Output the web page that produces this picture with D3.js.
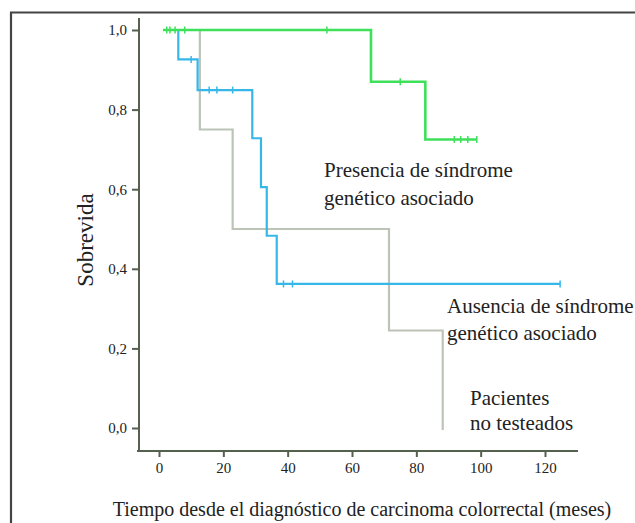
<!DOCTYPE html>
<html>
<head>
<meta charset="utf-8">
<script src="https://cdn.jsdelivr.net/npm/d3@7"></script>
<style>
  body { margin: 0; background: #fff; }
  text { font-family: "Liberation Serif", "DejaVu Serif", serif; fill: #222; }
</style>
</head>
<body>
<div id="graph"></div>
<script>
// Kaplan-Meier steps: [month, survival]
const presenciaSteps = [[1.3, 1.0], [65.9, 0.87], [82.8, 0.725], [98.8, 0.725]];
const presenciaCensor = [[2.4, 1.0], [3.4, 1.0], [5, 1.0], [8, 1.0], [52.2, 1.0], [75, 0.87], [91.8, 0.725], [93.8, 0.725], [96, 0.725], [98.8, 0.725]];

const ausenciaSteps = [[1.3, 1.0], [6, 0.926], [12, 0.849], [29, 0.728], [31.7, 0.605], [33.5, 0.483], [36.6, 0.362], [124.7, 0.362]];
const ausenciaCensor = [[10, 0.926], [15.6, 0.849], [18, 0.849], [22.9, 0.849], [38.7, 0.362], [41.5, 0.362], [124.7, 0.362]];

const noTestSteps = [[1.3, 1.0], [12.7, 0.75], [22.9, 0.5], [71.5, 0.245], [88.2, -0.005], [88.2, -0.005]];

const xTicks = [0, 20, 40, 60, 80, 100, 120];
const yTicks = [0, 0.2, 0.4, 0.6, 0.8, 1.0];

const width = 635;
const height = 523;
const green = "#3ee05a";
const blue = "#35b8e8";
const gray = "#bcc4b8";
const axisColor = "#55604f";

const formatY = d => d3.format(".1f")(d).replace(".", ",");

let svg = d3.select('#graph')
  .append('svg')
  .attr('width', width)
  .attr('height', height);

// frame (top and left)
svg.append('path')
  .attr('d', `M11,${height} V12.5 H${width}`)
  .attr('fill', 'none')
  .attr('stroke', '#444')
  .attr('stroke-width', 2.2);

let xScale = d3.scaleLinear()
  .domain([0, 120])
  .range([159, 545]);

let yScale = d3.scaleLinear()
  .domain([0, 1])
  .range([428, 30]);

let axis = svg.append('g').attr('class', 'axis');

// x axis
let xAxis = d3.axisBottom(xScale)
  .tickValues(xTicks)
  .tickSize(6)
  .tickPadding(5);
let gx = axis.append('g')
  .attr('transform', 'translate(0, 451)')
  .call(xAxis);
gx.select('.domain').remove();
gx.append('line')
  .attr('x1', 137).attr('x2', 578)
  .attr('stroke', axisColor).attr('stroke-width', 2);

// y axis
let yAxis = d3.axisLeft(yScale)
  .tickValues(yTicks)
  .tickFormat(formatY)
  .tickSize(7)
  .tickPadding(5);
let gy = axis.append('g')
  .attr('transform', 'translate(139, 0)')
  .call(yAxis);
gy.select('.domain').remove();
gy.append('line')
  .attr('y1', 18).attr('y2', 452)
  .attr('stroke', axisColor).attr('stroke-width', 2);

axis.selectAll('.tick line')
  .attr('stroke', axisColor)
  .attr('stroke-width', 2);
axis.selectAll('.tick text')
  .style('font-size', '15px')
  .style('font-family', '"Liberation Serif", serif')
  .attr('fill', '#222');

// axis titles
axis.append('text')
  .attr('text-anchor', 'middle')
  .attr('x', 362)
  .attr('y', 516)
  .style('font-size', '20px')
  .text('Tiempo desde el diagnóstico de carcinoma colorrectal (meses)');

axis.append('text')
  .attr('text-anchor', 'middle')
  .attr('transform', 'translate(93, 240) rotate(-90)')
  .style('font-size', '23px')
  .text('Sobrevida');

// curves
let step = d3.line()
  .x(d => xScale(d[0]))
  .y(d => yScale(d[1]))
  .curve(d3.curveStepAfter);

let curves = svg.append('g').attr('class', 'curves');

function drawCurve(steps, censor, color, sw) {
  curves.append('path')
    .datum(steps)
    .attr('fill', 'none')
    .attr('stroke', color)
    .attr('stroke-width', sw)
    .attr('d', step);
  if (censor) {
    curves.selectAll(null)
      .data(censor)
      .enter()
      .append('line')
      .attr('x1', d => xScale(d[0]))
      .attr('x2', d => xScale(d[0]))
      .attr('y1', d => yScale(d[1]) - 3.5)
      .attr('y2', d => yScale(d[1]) + 3.5)
      .attr('stroke', color)
      .attr('stroke-width', 1.5);
  }
}

drawCurve(noTestSteps, null, gray, 2.2);
drawCurve(ausenciaSteps, ausenciaCensor, blue, 2.2);
drawCurve(presenciaSteps, presenciaCensor, green, 2.6);

// labels
let labels = svg.append('g').attr('class', 'labels');
const labelData = [
  {x: 324, y: 177, gap: 28, lines: ['Presencia de síndrome', 'genético asociado']},
  {x: 447, y: 313, gap: 27, lines: ['Ausencia de síndrome', 'genético asociado']},
  {x: 470, y: 405, gap: 25, lines: ['Pacientes', 'no testeados']}
];
labelData.forEach(l => {
  l.lines.forEach((t, i) => {
    labels.append('text')
      .attr('x', l.x)
      .attr('y', l.y + i * l.gap)
      .style('font-size', '21px')
      .text(t);
  });
});
</script>
</body>
</html>
